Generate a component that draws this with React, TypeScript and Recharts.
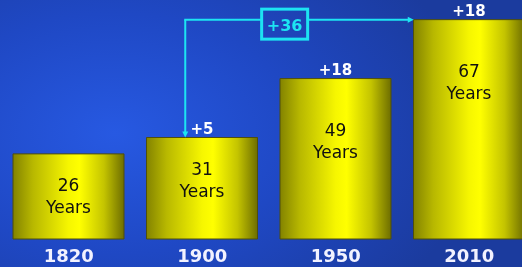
import React from 'react'
import { BarChart, Bar, XAxis, YAxis, LabelList, ReferenceLine } from 'recharts'

const years = ['1820', '1900', '1950', '2010']
const lifespan = [26, 31, 49, 67]
const gains = ['', '+5', '+18', '+18']
const spanFrom = '1900'
const spanTo = '2010'
const spanLabel = '+36'

const data = years.map((year, i) => ({ year, lifespan: lifespan[i], gain: gains[i] }))

const FONT = '"DejaVu Sans", Verdana, sans-serif'
const CYAN = '#1de4f2'
const BAR_SIZE = 111
const ARROW_INSET = 17

const InsideLabel = (props: any) => {
  const { x, y, width, height, value } = props
  const cx = Number(x) + Number(width) / 2
  const top = Number(y) + (Number(height) > 150 ? 57 : 37)
  return (
    <text textAnchor="middle" fontFamily={FONT} fontSize={17} fill="#111">
      <tspan x={cx} y={top}>{value}</tspan>
      <tspan x={cx} y={top + 22.5}>Years</tspan>
    </text>
  )
}

const GainLabel = (props: any) => {
  const { x, y, width, value } = props
  if (!value) return null
  return (
    <text x={Number(x) + Number(width) / 2} y={Number(y) - 4} textAnchor="middle"
      fontFamily={FONT} fontSize={15} fontWeight="bold" fill="#fff">
      {value}
    </text>
  )
}

const YearTick = ({ x, y, payload }: any) => (
  <text x={x} y={y + 23} textAnchor="middle" fontFamily={FONT} fontSize={18}
    fontWeight="bold" fill="#f2f2ff">
    {payload.value}
  </text>
)

// vertical leg: from the bracket level down onto the 1900 bar
const DropArrow = ({ x1, y1, y2 }: any) => {
  const ax = x1 - ARROW_INSET
  return (
    <g>
      <line x1={ax} y1={y1} x2={ax} y2={y2 - 5} stroke={CYAN} strokeWidth={2} />
      <path d={`M${ax - 3},${y2 - 6} L${ax + 3},${y2 - 6} L${ax},${y2} Z`} fill={CYAN} />
    </g>
  )
}

// horizontal leg with the total box, pointing to the 2010 bar
const SpanArrow = ({ x1, y1, x2 }: any) => {
  const left = x1 - ARROW_INSET
  const right = x2 - BAR_SIZE / 2
  const bx = left + (right - left) * 0.435
  const bw = 46
  const bh = 30
  return (
    <g>
      <line x1={left - 1} y1={y1} x2={bx - bw / 2} y2={y1} stroke={CYAN} strokeWidth={2} />
      <line x1={bx + bw / 2} y1={y1} x2={right - 5} y2={y1} stroke={CYAN} strokeWidth={2} />
      <path d={`M${right - 6},${y1 - 3} L${right - 6},${y1 + 3} L${right},${y1} Z`} fill={CYAN} />
      <rect x={bx - bw / 2} y={y1 - 10.5} width={bw} height={bh} fill="none" stroke={CYAN} strokeWidth={3} />
      <text x={bx} y={y1 + 11} textAnchor="middle" fontFamily={FONT} fontSize={16}
        fontWeight="bold" fill={CYAN}>
        {spanLabel}
      </text>
    </g>
  )
}

export default function App() {
  const top = lifespan[lifespan.length - 1]
  return (
    <div style={{
      position: 'fixed', left: 0, top: 0, width: 522, height: 267, overflow: 'hidden',
      background: 'radial-gradient(ellipse 70% 90% at 22% 50%, #2759e2 0%, #1f48c4 50%, #1b3b9e 100%)',
    }}>
      <BarChart width={536} height={267} data={data} barSize={BAR_SIZE}
        margin={{ top: 0, right: 0, bottom: 0, left: 2 }}>
        <defs>
          <linearGradient id="barGrad" x1="0" y1="0" x2="1" y2="0">
            <stop offset="0%" stopColor="#838300" />
            <stop offset="18%" stopColor="#b8b800" />
            <stop offset="50%" stopColor="#f6f600" />
            <stop offset="60%" stopColor="#ffff00" />
            <stop offset="82%" stopColor="#c4c400" />
            <stop offset="100%" stopColor="#6e6e00" />
          </linearGradient>
        </defs>
        <XAxis dataKey="year" axisLine={false} tickLine={false} tickSize={0} tickMargin={0}
          height={28} interval={0} tick={<YearTick />} />
        <YAxis hide domain={[0, 73]} />
        <Bar dataKey="lifespan" fill="url(#barGrad)" stroke="#4f4f0c" strokeWidth={1}
          isAnimationActive={false}>
          <LabelList dataKey="lifespan" content={InsideLabel} />
          <LabelList dataKey="gain" content={GainLabel} />
        </Bar>
        <ReferenceLine ifOverflow="visible" position="middle"
          segment={[{ x: spanFrom, y: top }, { x: spanFrom, y: lifespan[1] }]}
          shape={DropArrow} />
        <ReferenceLine ifOverflow="visible" position="middle"
          segment={[{ x: spanFrom, y: top }, { x: spanTo, y: top }]}
          shape={SpanArrow} />
      </BarChart>
    </div>
  )
}
